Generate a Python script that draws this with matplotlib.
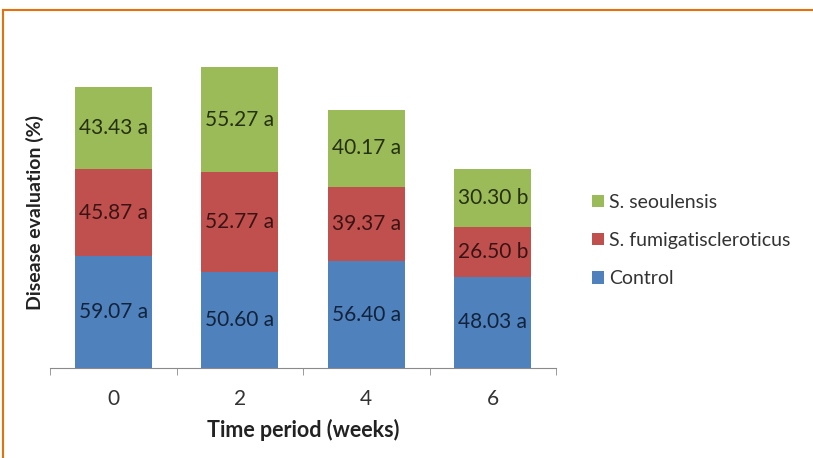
import matplotlib.pyplot as plt
import numpy as np
from matplotlib.lines import Line2D

weeks = ['0', '2', '4', '6']
control = [59.07, 50.60, 56.40, 48.03]
fumig = [45.87, 52.77, 39.37, 26.50]
seoul = [43.43, 55.27, 40.17, 30.30]
control_lbl = ['59.07 a', '50.60 a', '56.40 a', '48.03 a']
fumig_lbl = ['45.87 a', '52.77 a', '39.37 a', '26.50 b']
seoul_lbl = ['43.43 a', '55.27 a', '40.17 a', '30.30 b']

plt.rcParams['font.family'] = ['Lato', 'DejaVu Sans']

fig = plt.figure(figsize=(8.13, 4.58), dpi=100)
ax = fig.add_axes([0.0615, 0.1965, 0.6225, 0.72])

x = np.arange(len(weeks))
w = 0.61
series = [
    (control, control_lbl, '#4F81BD', '#13233A', 'Control'),
    (fumig, fumig_lbl, '#C0504D', '#3A1414', 'S. fumigatiscleroticus'),
    (seoul, seoul_lbl, '#9BBB59', '#25300F', 'S. seoulensis'),
]
bottom = np.zeros(len(weeks))
handles = []
for vals, lbls, col, tcol, name in series:
    vals = np.array(vals)
    b = ax.bar(x, vals, w, bottom=bottom, color=col, label=name)
    handles.append(b)
    for xi, bi, vi, t in zip(x, bottom, vals, lbls):
        ax.text(xi, bi + vi / 2, t, ha='center', va='center',
                fontsize=15, color=tcol)
    bottom = bottom + vals

ax.set_xlim(-0.5, 3.5)
ax.set_ylim(0, 174)
ax.set_yticks([])
for s in ['left', 'right', 'top']:
    ax.spines[s].set_visible(False)
ax.spines['bottom'].set_color('#8A8A8A')
ax.set_xticks(x)
ax.set_xticklabels(weeks, fontsize=15, color='#333333')
ax.tick_params(axis='x', which='major', length=0, pad=15)
ax.set_xticks(np.arange(-0.5, 4.0, 1.0), minor=True)
ax.tick_params(axis='x', which='minor', length=5, color='#8A8A8A', direction='out')
ax.set_xlabel('Time period (weeks)', fontsize=15.5, fontweight='bold',
              color='#222222', labelpad=7)
fig.text(0.043, 0.535, 'Disease evaluation (%)', rotation=90, fontsize=14,
         fontweight='bold', color='#222222', ha='center', va='center')

ax.legend(handles[::-1], [h.get_label() for h in handles[::-1]],
          loc='center left', bbox_to_anchor=(0.707, 0.475),
          bbox_transform=fig.transFigure, frameon=False, fontsize=14,
          handlelength=0.6, handleheight=0.6, handletextpad=0.25,
          labelspacing=1.1, labelcolor='#333333')

# orange frame (top and left edges)
orange = '#E8700A'
fig.add_artist(Line2D([0.0037, 1.0], [0.978, 0.978], color=orange, lw=1.5,
                      transform=fig.transFigure))
fig.add_artist(Line2D([0.0037, 0.0037], [0.0, 0.978], color=orange, lw=1.5,
                      transform=fig.transFigure))

fig.savefig('out.png', dpi=100)
